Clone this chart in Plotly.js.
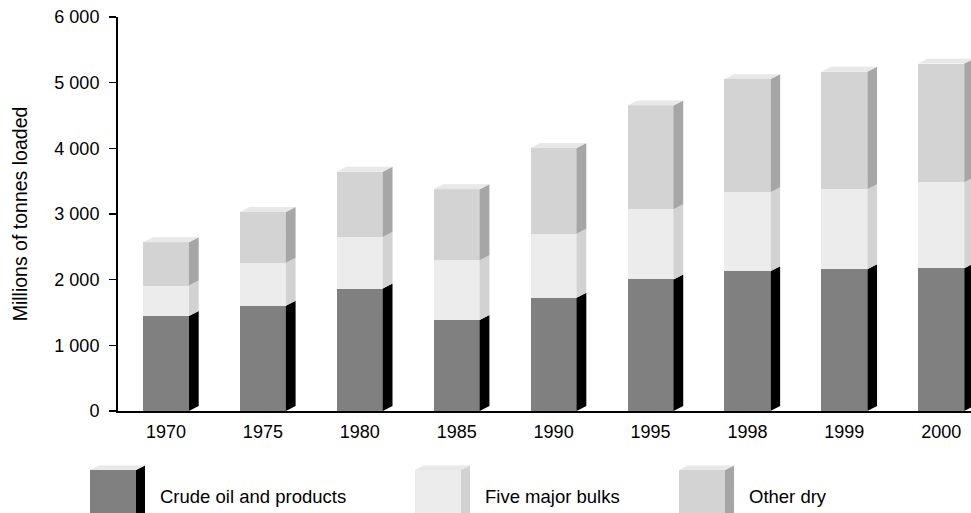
<!DOCTYPE html>
<html>
<head>
<meta charset="utf-8">
<script src="https://cdn.plot.ly/plotly-3.0.1.min.js"></script>
<style>html,body{margin:0;padding:0;background:#fff;}#chart{width:971px;height:513px;}</style>
</head>
<body>
<div id="chart"></div>
<script>
const categories = ['1970', '1975', '1980', '1985', '1990', '1995', '1998', '1999', '2000'];
const crudeOil = [1448, 1602, 1864, 1386, 1725, 2003, 2127, 2157, 2173];
const majorBulks = [462, 654, 787, 910, 973, 1071, 1203, 1220, 1312];
const otherDry = [659, 776, 994, 1081, 1307, 1579, 1724, 1790, 1805];
const seriesNames = ['Crude oil and products', 'Five major bulks', 'Other dry'];
const yTickVals = [0, 1000, 2000, 3000, 4000, 5000, 6000];
const yTickText = ['0', '1 000', '2 000', '3 000', '4 000', '5 000', '6 000'];

const FONT = 'Liberation Sans, Arial, Helvetica, sans-serif';
const W = 0.475, DX = 0.1, DY = 76;
const frontCol = ['#808080', '#ececec', '#d3d3d3'];
const sideCol = ['#000000', '#d2d2d2', '#a6a6a6'];
const topCol = '#e8e8e8';
const xs = categories.map((c, i) => i);

const series = [crudeOil, majorBulks, otherDry];
const bases = [];
let acc = xs.map(() => 0);
series.forEach(s => { bases.push(acc.slice()); acc = acc.map((a, i) => a + s[i]); });
const totals = acc;

const traces = [];
series.forEach((s, k) => {
  traces.push({type: 'bar', x: xs, y: s, width: W, name: seriesNames[k],
    marker: {color: frontCol[k], line: {width: 0}}, showlegend: false, hoverinfo: 'skip'});
});
series.forEach((s, k) => {
  const px = [], py = [];
  xs.forEach((x, i) => {
    const b = bases[k][i], t = b + s[i], xr = x + W / 2;
    px.push(xr, xr + DX, xr + DX, xr, xr, null);
    py.push(b, b + DY, t + DY, t, b, null);
  });
  traces.push({type: 'scatter', x: px, y: py, mode: 'none', fill: 'toself',
    fillcolor: sideCol[k], showlegend: false, hoverinfo: 'skip'});
});
{
  const px = [], py = [];
  xs.forEach((x, i) => {
    const t = totals[i], xl = x - W / 2, xr = x + W / 2;
    px.push(xl, xl + DX, xr + DX, xr, xl, null);
    py.push(t, t + DY, t + DY, t, t, null);
  });
  traces.push({type: 'scatter', x: px, y: py, mode: 'none', fill: 'toself',
    fillcolor: topCol, showlegend: false, hoverinfo: 'skip'});
}

// legend boxes (pixel -> paper helpers)
const L = 118, R = 971, T = 17, B = 411;
const fx = p => (p - L) / (R - L);
const fy = p => (B - p) / (B - T);
const poly = pts => 'M' + pts.map(p => fx(p[0]) + ',' + fy(p[1])).join(' L') + ' Z';
const legendX = [90, 415, 679];
const textX = [158, 483, 747];
const shapes = [], annotations = [];
legendX.forEach((x0, k) => {
  const fw = 46, d = 9, top = 470, bot = 520, dv = 4.5;
  shapes.push({type: 'path', xref: 'paper', yref: 'paper', line: {width: 0}, fillcolor: frontCol[k],
    path: poly([[x0, top], [x0 + fw, top], [x0 + fw, bot], [x0, bot]])});
  shapes.push({type: 'path', xref: 'paper', yref: 'paper', line: {width: 0}, fillcolor: sideCol[k],
    path: poly([[x0 + fw, top], [x0 + fw + d, top - dv], [x0 + fw + d, bot], [x0 + fw, bot]])});
  shapes.push({type: 'path', xref: 'paper', yref: 'paper', line: {width: 0}, fillcolor: topCol,
    path: poly([[x0, top], [x0 + d, top - dv], [x0 + fw + d, top - dv], [x0 + fw, top]])});
  annotations.push({xref: 'paper', yref: 'paper', x: fx(textX[k]), y: fy(496), xanchor: 'left', yanchor: 'middle',
    text: seriesNames[k], showarrow: false, font: {family: FONT, size: 18.5, color: '#000'}});
});

const layout = {
  width: 971, height: 513,
  margin: {l: L, r: 0, t: T, b: 513 - B},
  paper_bgcolor: '#fff', plot_bgcolor: '#fff',
  barmode: 'stack', bargap: 0,
  showlegend: false,
  font: {family: FONT, size: 18, color: '#000'},
  xaxis: {range: [-0.495, 8.307], tickvals: xs, ticktext: categories, showgrid: false, zeroline: false,
    showline: true, linecolor: '#000', linewidth: 2, ticks: '', ticklabelstandoff: 3,
    tickfont: {family: FONT, size: 18, color: '#000'}, fixedrange: true},
  yaxis: {range: [0, 6000], tickvals: yTickVals, ticktext: yTickText, showgrid: false, zeroline: false,
    showline: true, linecolor: '#000', linewidth: 2, ticks: 'outside', ticklen: 7, tickwidth: 1.5, tickcolor: '#000',
    ticklabelstandoff: 6,
    tickfont: {family: FONT, size: 18, color: '#000'},
    title: {text: 'Millions of tonnes loaded', font: {family: FONT, size: 19.5, color: '#000'}, standoff: 22},
    fixedrange: true},
  shapes: shapes,
  annotations: annotations
};

Plotly.newPlot('chart', traces, layout, {displayModeBar: false, staticPlot: true});
</script>
</body>
</html>
